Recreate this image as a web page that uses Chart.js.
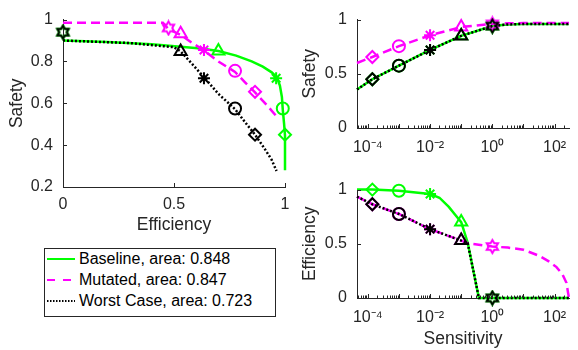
<!DOCTYPE html>
<html>
<head>
<meta charset="utf-8">
<script src="https://cdn.jsdelivr.net/npm/chart.js@4"></script>
<style>
  body { margin: 0; background: #fff; width: 578px; height: 350px; position: relative; overflow: hidden;
         font-family: "Liberation Sans", Arial, Helvetica, sans-serif; }
  canvas { position: absolute; }
  #legend { position: absolute; left: 44px; top: 248px; width: 230px; height: 67px;
            border: 1px solid #262626; background: #fff; }
  .row { position: absolute; left: 0; height: 20px; width: 230px; }
  .row svg { position: absolute; left: 2px; top: 0; }
  .row span { position: absolute; left: 34px; top: 0; line-height: 20px; font-size: 16px; color: #000; white-space: nowrap; }
</style>
</head>
<body>
<canvas id="roc" width="300" height="240" style="left:0;top:0"></canvas>
<canvas id="safeSens" width="278" height="160" style="left:300px;top:0"></canvas>
<canvas id="effSens" width="278" height="180" style="left:300px;top:170px"></canvas>
<div id="legend"></div>
<script>
// series
const seriesNames = ['Baseline', 'Mutated', 'Worst Case'];
const seriesAreas = ['0.848', '0.847', '0.723'];

// marker sensitivities and the shape used at each
const markerSens = [1.4e-4, 1e-3, 1e-2, 1e-1, 1];
const markerShapes = ['rectRot', 'circle', 'star', 'triangle', 'hexagram'];

// values at the markers
const baseSafeMk = [0.45, 0.575, 0.72, 0.85, 0.94];
const baseEffMk = [1.0, 0.99, 0.96, 0.70, 0];
const mutSafeMk = [0.655, 0.755, 0.855, 0.932, 0.96];
const mutEffMk = [0.865, 0.775, 0.635, 0.53, 0.475];
const worstSafeMk = [0.45, 0.575, 0.72, 0.848, 0.94];
const worstEffMk = [0.865, 0.775, 0.635, 0.53, 0];

// Safety vs Efficiency curves
const rocBaseEff = [0, 0.2, 0.4, 0.53, 0.62, 0.70, 0.78, 0.85, 0.90, 0.94, 0.963, 0.977, 0.986, 0.99, 0.996, 1.0, 1.0];
const rocBaseSafe = [0.9, 0.893, 0.882, 0.87, 0.862, 0.85, 0.828, 0.8, 0.775, 0.748, 0.725, 0.685, 0.63, 0.57, 0.5, 0.445, 0.28];
const rocMutEff = [0, 0.45, 0.475, 0.53, 0.58, 0.635, 0.70, 0.775, 0.82, 0.865, 0.915, 0.96];
const rocMutSafe = [0.985, 0.985, 0.955, 0.927, 0.89, 0.853, 0.8, 0.75, 0.7, 0.652, 0.595, 0.54];
const rocWorstEff = [0, 0.3, 0.5, 0.53, 0.58, 0.635, 0.7, 0.775, 0.82, 0.865, 0.91, 0.94, 0.962];
const rocWorstSafe = [0.9, 0.888, 0.868, 0.848, 0.79, 0.725, 0.645, 0.572, 0.51, 0.45, 0.38, 0.33, 0.276];

// Safety vs Sensitivity curves
const safeSens = [4.5e-5, 1.4e-4, 1e-3, 1e-2, 1e-1, 1, 3, 10, 100, 290];
const safeBaseLine = [0.355, 0.45, 0.575, 0.72, 0.85, 0.94, 0.955, 0.96, 0.96, 0.96];
const safeWorstLine = [0.355, 0.45, 0.575, 0.72, 0.85, 0.94, 0.955, 0.96, 0.96, 0.96];
const safeMutLine = [0.6, 0.655, 0.755, 0.855, 0.932, 0.96, 0.966, 0.968, 0.968, 0.968];

// Efficiency vs Sensitivity curves
const effBaseSens = [4.5e-5, 1.4e-4, 1e-3, 1e-2, 0.02, 0.04, 0.063, 0.1, 0.162, 0.37, 1, 290];
const effBaseLine = [1.0, 1.0, 0.99, 0.96, 0.925, 0.84, 0.77, 0.70, 0.51, 0, 0, 0];
const effWorstSens = [4.5e-5, 1.4e-4, 1e-3, 1e-2, 0.1, 0.162, 0.37, 1, 290];
const effWorstLine = [0.935, 0.865, 0.775, 0.635, 0.53, 0.505, 0, 0, 0];
const effMutSens = [4.5e-5, 1.4e-4, 1e-3, 1e-2, 0.1, 0.162, 1, 3.16, 10, 31.6, 63, 115, 178, 240, 270, 290];
const effMutLine = [0.935, 0.865, 0.775, 0.635, 0.53, 0.505, 0.475, 0.465, 0.445, 0.39, 0.34, 0.285, 0.22, 0.14, 0.05, 0];

// log axis ticks
const sensTicks = [1e-4, 1e-2, 1, 100];
const sensTickLabels = ['10\u207B\u2074', '10\u207B\u00B2', '10\u2070', '10\u00B2'];

const GREEN = '#00ff00', MAGENTA = '#ff00ff', BLACK = '#000000';
const ink = '#262626';
const fam = '"Liberation Sans", Arial, Helvetica, sans-serif';
const tickFont = { family: fam, size: 16 };
const titleFont = { family: fam, size: 17.5 };

Chart.defaults.font.family = fam;
Chart.defaults.color = ink;

function hexagram(color) {
  const c = document.createElement('canvas');
  c.width = 17; c.height = 17;
  const g = c.getContext('2d');
  g.strokeStyle = color;
  g.lineWidth = 2;
  const R = 6.5, r = R / Math.sqrt(3);
  g.beginPath();
  for (let i = 0; i < 12; i++) {
    const a = -Math.PI / 2 + i * Math.PI / 6;
    const rr = i % 2 ? r : R;
    g.lineTo(8.5 + rr * Math.cos(a), 8.5 + rr * Math.sin(a));
  }
  g.closePath();
  g.stroke();
  return c;
}

function pts(xs, ys) {
  return xs.map((x, i) => ({ x: x, y: ys[i] }));
}

function lineDs(xs, ys, color, dash, width) {
  return {
    data: pts(xs, ys), showLine: true, borderColor: color, borderWidth: width,
    borderDash: dash, pointRadius: 0, tension: 0, fill: false, clip: false
  };
}

function markerDs(xs, ys, color) {
  return {
    data: pts(xs, ys), showLine: false,
    pointStyle: markerShapes.map(s => s === 'hexagram' ? hexagram(color) : s),
    pointRadius: markerShapes.map(s => s === 'triangle' ? 7 : 6),
    pointBorderColor: color, pointBackgroundColor: 'rgba(0,0,0,0)',
    pointBorderWidth: 2, clip: false
  };
}

// matlab style ticks pointing into the plot
const inwardTicks = {
  id: 'inwardTicks',
  afterDraw(chart) {
    const ctx = chart.ctx, a = chart.chartArea;
    const xs = chart.scales.x, ys = chart.scales.y;
    ctx.save();
    ctx.strokeStyle = ink;
    ctx.lineWidth = 1;
    ctx.beginPath();
    if (xs.type === 'logarithmic') {
      for (let e = -5; e <= 2; e++) {
        for (let m = 1; m <= 9; m++) {
          const v = m * Math.pow(10, e);
          if (v < xs.min || v > xs.max) continue;
          const px = Math.round(xs.getPixelForValue(v)) + 0.5;
          ctx.moveTo(px, a.bottom);
          ctx.lineTo(px, a.bottom - (m === 1 ? 4 : 2.5));
        }
      }
    } else {
      xs.ticks.forEach(t => {
        const px = Math.round(xs.getPixelForValue(t.value)) + 0.5;
        ctx.moveTo(px, a.bottom);
        ctx.lineTo(px, a.bottom - 4);
      });
    }
    ys.ticks.forEach(t => {
      const py = Math.round(ys.getPixelForValue(t.value)) + 0.5;
      ctx.moveTo(a.left, py);
      ctx.lineTo(a.left + 4, py);
    });
    ctx.stroke();
    ctx.restore();
  }
};

function baseOptions(pad, xScale, yScale) {
  return {
    responsive: false, animation: false, events: [],
    layout: { padding: pad },
    plugins: { legend: { display: false }, tooltip: { enabled: false } },
    scales: { x: xScale, y: yScale }
  };
}

function linY(min, max, step, width, title, titlePad) {
  return {
    type: 'linear', min: min, max: max,
    afterFit: s => { s.width = width; },
    grid: { display: false, drawTicks: false },
    border: { display: true, color: ink, width: 1 },
    ticks: { stepSize: step, padding: 10, color: ink, font: tickFont,
             callback: v => String(Math.round(v * 10) / 10) },
    title: { display: true, text: title, color: ink, font: titleFont, padding: { top: titlePad, bottom: 0 } }
  };
}

function logX(height, title) {
  return {
    type: 'logarithmic', min: 4.5e-5, max: 290,
    afterFit: s => { s.height = height; },
    afterBuildTicks: s => { s.ticks = sensTicks.map(v => ({ value: v })); },
    grid: { display: false, drawTicks: false },
    border: { display: true, color: ink, width: 1 },
    ticks: { padding: 10, color: ink, font: tickFont, autoSkip: false, maxRotation: 0,
             callback: (v, i) => sensTickLabels[i] },
    title: { display: !!title, text: title || '', color: ink, font: titleFont, padding: { top: 0, bottom: 0 } }
  };
}

// left: Safety vs Efficiency
new Chart(document.getElementById('roc'), {
  type: 'scatter',
  data: {
    datasets: [
      markerDs(worstEffMk, worstSafeMk, BLACK),
      lineDs(rocWorstEff, rocWorstSafe, BLACK, [2, 2], 2.5),
      markerDs(mutEffMk, mutSafeMk, MAGENTA),
      lineDs(rocMutEff, rocMutSafe, MAGENTA, [9, 5], 2.5),
      markerDs(baseEffMk, baseSafeMk, GREEN),
      lineDs(rocBaseEff, rocBaseSafe, GREEN, [], 2.5)
    ]
  },
  options: baseOptions({ top: 16, right: 15, left: 0, bottom: 0 },
    {
      type: 'linear', min: 0, max: 1,
      afterFit: s => { s.height = 53; },
      grid: { display: false, drawTicks: false },
      border: { display: true, color: ink, width: 1 },
      ticks: { stepSize: 0.5, padding: 8, color: ink, font: tickFont, maxRotation: 0,
               callback: v => String(v) },
      title: { display: true, text: 'Efficiency', color: ink, font: titleFont, padding: { top: 0, bottom: 4 } }
    },
    linY(0.2, 1, 0.2, 63, 'Safety', 7)),
  plugins: [inwardTicks]
});

// top right: Safety vs Sensitivity
new Chart(document.getElementById('safeSens'), {
  type: 'scatter',
  data: {
    datasets: [
      markerDs(markerSens, worstSafeMk, BLACK),
      lineDs(safeSens, safeWorstLine, BLACK, [2, 2], 2.5),
      markerDs(markerSens, mutSafeMk, MAGENTA),
      lineDs(safeSens, safeMutLine, MAGENTA, [9, 5], 2.5),
      markerDs(markerSens, baseSafeMk, GREEN),
      lineDs(safeSens, safeBaseLine, GREEN, [], 2.5)
    ]
  },
  options: baseOptions({ top: 16, right: 0, left: 0, bottom: 0 },
    logX(32, ''),
    linY(0, 1, 0.5, 57, 'Safety', 0)),
  plugins: [inwardTicks]
});

// bottom right: Efficiency vs Sensitivity
new Chart(document.getElementById('effSens'), {
  type: 'scatter',
  data: {
    datasets: [
      markerDs(markerSens, worstEffMk, BLACK),
      lineDs(effWorstSens, effWorstLine, BLACK, [2, 2], 2.5),
      markerDs(markerSens, mutEffMk, MAGENTA),
      lineDs(effMutSens, effMutLine, MAGENTA, [9, 5], 2.5),
      markerDs(markerSens, baseEffMk, GREEN),
      lineDs(effBaseSens, effBaseLine, GREEN, [], 2.5)
    ]
  },
  options: baseOptions({ top: 18, right: 0, left: 0, bottom: 0 },
    logX(52, 'Sensitivity'),
    linY(0, 1, 0.5, 57, 'Efficiency', 0)),
  plugins: [inwardTicks]
});

// legend box
const legendStyles = [
  { color: GREEN, dash: '' },
  { color: MAGENTA, dash: '8,8' },
  { color: BLACK, dash: '1.5,1.5' }
];
const legend = document.getElementById('legend');
seriesNames.forEach((name, i) => {
  const row = document.createElement('div');
  row.className = 'row';
  row.style.top = (i * 21) + 'px';
  const st = legendStyles[i];
  row.innerHTML = '<svg width="28" height="20"><line x1="0" y1="10" x2="28" y2="10" stroke="' + st.color +
    '" stroke-width="2"' + (st.dash ? ' stroke-dasharray="' + st.dash + '"' : '') + '/></svg>' +
    '<span>' + name + ', area: ' + seriesAreas[i] + '</span>';
  legend.appendChild(row);
});
</script>
</body>
</html>
